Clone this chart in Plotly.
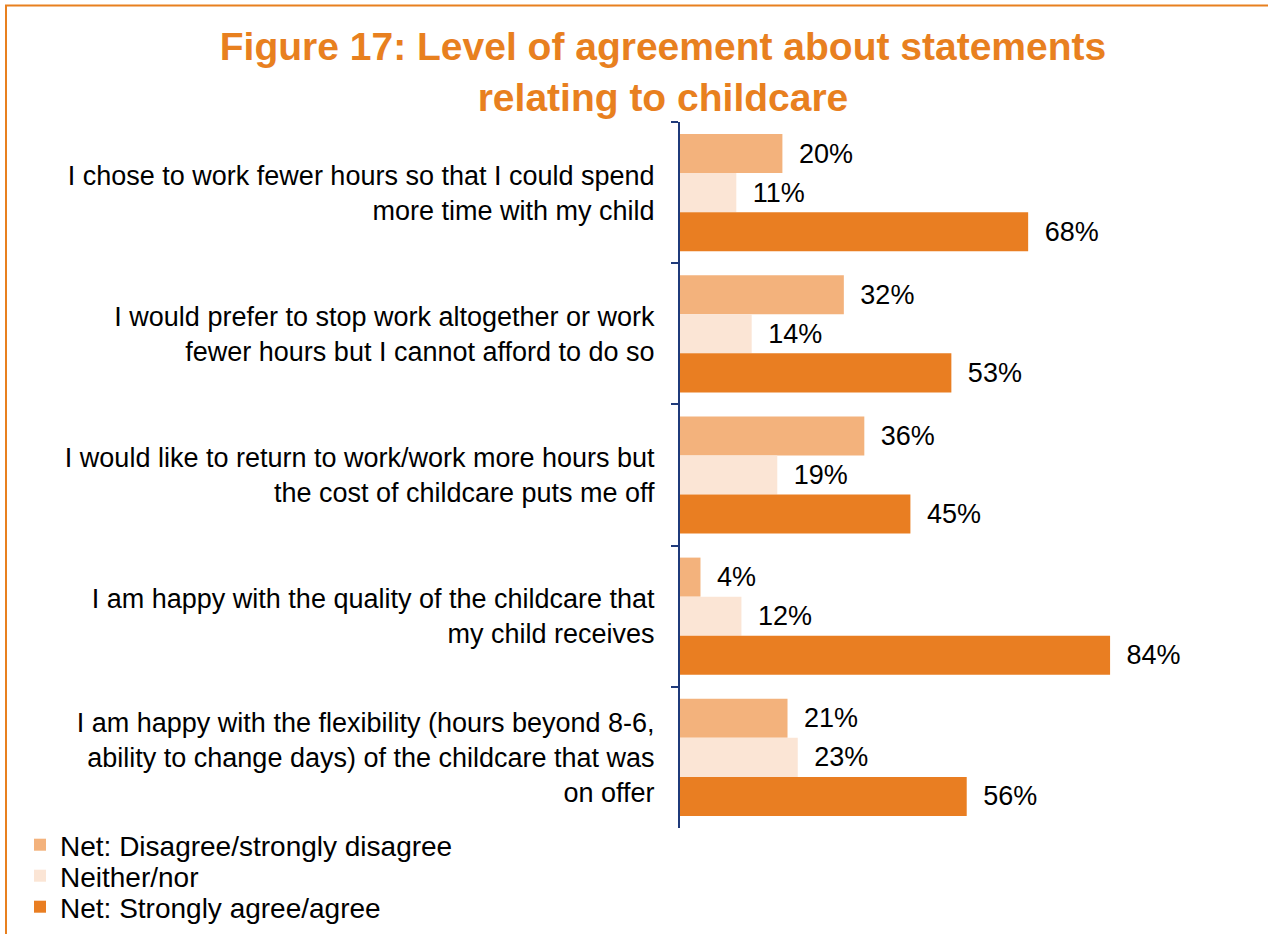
import plotly.graph_objects as go

# Figure 17 data
statements = [
    "I chose to work fewer hours so that I could spend<br>more time with my child",
    "I would prefer to stop work altogether or work<br>fewer hours but I cannot afford to do so",
    "I would like to return to work/work more hours but<br>the cost of childcare puts me off",
    "I am happy with the quality of the childcare that<br>my child receives",
    "I am happy with the flexibility (hours beyond 8-6,<br>ability to change days) of the childcare that was<br>on offer",
]
disagree = [20, 32, 36, 4, 21]
neither = [11, 14, 19, 12, 23]
agree = [68, 53, 45, 84, 56]

series_names = ["Net: Disagree/strongly disagree", "Neither/nor", "Net: Strongly agree/agree"]
series_colors = ["#F3B27C", "#FBE5D5", "#E97E22"]

FONT = "Arial, Liberation Sans, sans-serif"
ORANGE = "#E8801F"
NAVY = "#1F3A7A"

W, H = 1268, 934
L, R, T, B = 680, 76, 122, 106
pw, ph = W - L - R, H - T - B


def px_x(x):
    return (x - L) / pw


def px_y(y):
    return 1 - (y - T) / ph


# one small legend per row so the rows sit as tight as in the original
legend_ids = ["legend", "legend2", "legend3"]
legend_rows = [845, 876, 907]

fig = go.Figure()
for name, vals, col, lg in zip(series_names, [disagree, neither, agree], series_colors, legend_ids):
    fig.add_trace(go.Bar(
        name=name,
        y=statements,
        x=vals,
        orientation="h",
        marker=dict(color=col, line_width=0),
        text=vals,
        texttemplate="\u2002%{x}%",
        textposition="outside",
        outsidetextfont=dict(size=27, color="black", family=FONT),
        constraintext="none",
        cliponaxis=False,
        hoverinfo="skip",
        legend=lg,
    ))

legend_style = dict(
    xanchor="left",
    yanchor="middle",
    font=dict(size=28, family=FONT, color="black"),
    bgcolor="rgba(0,0,0,0)",
    itemclick=False,
    itemdoubleclick=False,
    itemwidth=30,
)

fig.update_layout(
    width=W,
    height=H,
    margin=dict(l=L, r=R, t=T, b=B, autoexpand=False),
    paper_bgcolor="white",
    plot_bgcolor="white",
    barmode="group",
    bargap=0.17,
    bargroupgap=0,
    font=dict(family=FONT, size=27, color="black"),
    title=dict(
        text="<b>Figure 17: Level of agreement about statements<br>relating to childcare</b>",
        font=dict(size=39, color=ORANGE, family=FONT),
        x=663 / W,
        xanchor="center",
        xref="container",
        y=1 - 60 / H,
        yanchor="top",
        yref="container",
    ),
    showlegend=True,
)
for lg, row in zip(legend_ids, legend_rows):
    fig.update_layout({lg: dict(x=px_x(20), y=px_y(row), **legend_style)})

fig.update_xaxes(
    range=[0, 100],
    visible=False,
    showgrid=False,
    zeroline=False,
    fixedrange=True,
)
fig.update_yaxes(
    autorange="reversed",
    type="category",
    showline=True,
    linecolor=NAVY,
    linewidth=2,
    ticks="outside",
    tickson="boundaries",
    ticklen=7,
    tickwidth=2,
    tickcolor=NAVY,
    ticklabelstandoff=18,
    showgrid=False,
    fixedrange=True,
    tickfont=dict(size=27, family=FONT, color="black"),
)

# orange frame round the figure (only top and left edges fall inside the view)
fig.add_shape(
    type="rect",
    xref="paper", yref="paper",
    x0=px_x(6), x1=px_x(W + 20),
    y0=px_y(H + 20), y1=px_y(5.5),
    line=dict(color=ORANGE, width=2),
    fillcolor="rgba(0,0,0,0)",
    layer="below",
)

fig.write_html(
    "out.html",
    config={"displayModeBar": False},
    post_script="document.body.style.margin='0';",
)
